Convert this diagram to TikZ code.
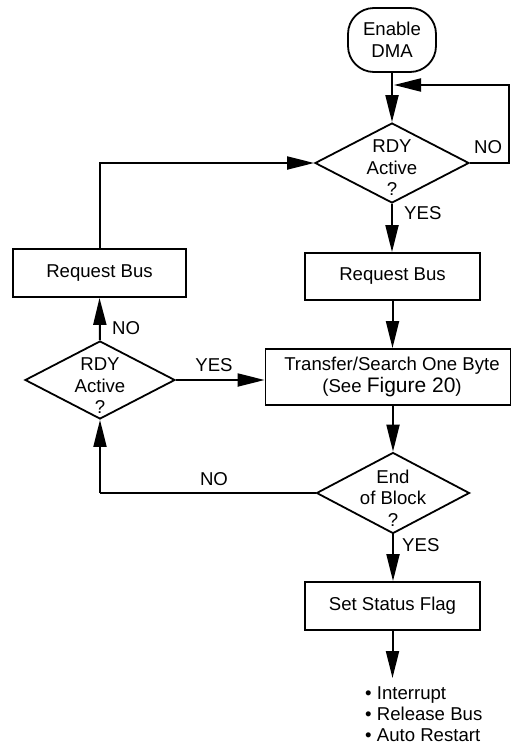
\documentclass[tikz,border=0pt]{standalone}
\usepackage{fontspec}
\setmainfont{Liberation Sans}
\usetikzlibrary{arrows.meta,shapes.geometric}
\begin{document}
\begin{tikzpicture}[x=1pt,y=-1pt,
  txt/.style={font=\fontsize{18.6}{21.5}\selectfont, inner sep=0pt},
  box/.style={draw, line width=1.8pt, inner sep=0pt, font=\fontsize{18.6}{21.5}\selectfont, align=center},
  dia/.style={draw, diamond, line width=1.8pt, inner sep=0pt},
  arr/.style={line width=2pt, -{Triangle[length=27pt,width=13pt]}},
  ln/.style={line width=2pt}]
\useasboundingbox (0,0) rectangle (512,747);

% nodes
\node[box, rounded corners=26pt, minimum width=88pt, minimum height=64pt] (en) at (392,40) {Enable\\DMA};
\node[dia, minimum width=154pt, minimum height=80pt] (d1) at (392,163) {};
\node[txt, align=center] (d1t) at (392,168) {RDY\\Active\\?};
\node[box, minimum width=175pt, minimum height=47pt] (rb2) at (392.5,276.5) {Request Bus};
\node[box, minimum width=245pt, minimum height=56pt] (tr) at (388,377) {};
\node[txt, align=center] (trt) at (392,377) {Transfer/Search One Byte\\(See {\fontsize{21}{21.5}\selectfont Figure 20})};
\node[dia, minimum width=153pt, minimum height=81pt] (d3) at (393,493) {};
\node[txt, align=center] (d3t) at (393,498) {End\\of Block\\?};
\node[box, minimum width=175pt, minimum height=48pt] (ssf) at (392.5,606) {Set Status Flag};
\node[txt, align=left, anchor=west, font=\fontsize{18.6}{21}\selectfont] (lst) at (365,714) {\textbullet\ Interrupt\\\textbullet\ Release Bus\\\textbullet\ Auto Restart};

\node[box, minimum width=173pt, minimum height=48pt] (rb1) at (99.5,273) {Request Bus};
\node[dia, minimum width=150pt, minimum height=78pt] (d2) at (100,380) {};
\node[txt, align=center] (d2t) at (100,386) {RDY\\Active\\?};

% free-end coordinates
\coordinate (loopR) at (509,85);
\coordinate (loopE) at (394,85);
\coordinate (lstTop) at (392.5,678);
\coordinate (noL) at (100,493);

% connectors
\draw[arr] (en.south) -- (d1.north);
\draw[arr] (d1.east) -| (loopR) -- (loopE);
\draw[arr] (d1.south) -- (d1.south |- rb2.north);
\draw[arr] (rb2.south) -- (rb2.south |- tr.north);
\draw[arr] (d3.north |- tr.south) -- (d3.north);
\draw[arr] (d3.south) -- (d3.south |- ssf.north);
\draw[arr] (ssf.south) -- (lstTop);
\draw[arr] (d2.north) -- (rb1.south);
\draw[arr] (rb1.north) |- (d1.west);
\draw[arr] (d2.east) -- (d2.east -| tr.west);
\draw[ln] (d3.west) -- (noL);
\draw[arr] (noL) -- (d2.south);

% labels
\node[txt, anchor=west] (l1) at (474,147) {NO};
\node[txt, anchor=west] (l2) at (404,213) {YES};
\node[txt, anchor=west] (l3) at (112,328) {NO};
\node[txt] (l4) at (214,365) {YES};
\node[txt] (l5) at (214,479) {NO};
\node[txt, anchor=west] (l6) at (402,545) {YES};
\end{tikzpicture}
\end{document}
